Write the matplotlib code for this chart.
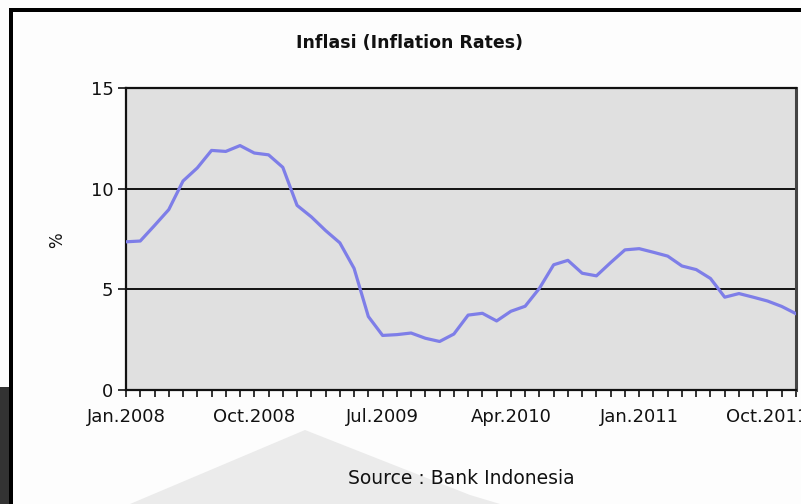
import numpy as np
import matplotlib.pyplot as plt
from matplotlib.patches import Rectangle, Polygon

# monthly inflation (%, yoy), Jan 2008 - Dec 2011
inflasi_2008 = [7.36, 7.40, 8.17, 8.96, 10.38, 11.03, 11.90, 11.85, 12.14, 11.77, 11.68, 11.06]
inflasi_2009 = [9.17, 8.60, 7.92, 7.31, 6.04, 3.65, 2.71, 2.75, 2.83, 2.57, 2.41, 2.78]
inflasi_2010 = [3.72, 3.81, 3.43, 3.91, 4.16, 5.05, 6.22, 6.44, 5.80, 5.67, 6.33, 6.96]
inflasi_2011 = [7.02, 6.84, 6.65, 6.16, 5.98, 5.54, 4.61, 4.79, 4.61, 4.42, 4.15, 3.79]

tick_labels = ["Jan.2008", "Oct.2008", "Jul.2009", "Apr.2010", "Jan.2011", "Oct.2011"]
y_ticks = [0, 5, 10, 15]

inflasi = np.array(inflasi_2008 + inflasi_2009 + inflasi_2010 + inflasi_2011)
bulan = np.arange(len(inflasi))

plt.rcParams["font.family"] = "DejaVu Sans"

fig = plt.figure(figsize=(8.01, 5.04), dpi=100, facecolor="#fdfdfd")

# faint background emblem
fig.patches.append(Polygon([[130 / 801, 0], [305 / 801, 74 / 504], [470 / 801, 9 / 504],
                            [500 / 801, 0]], closed=True, transform=fig.transFigure,
                           facecolor="#ebebeb", edgecolor="none", zorder=0))

# page frame
fig.patches.append(Rectangle((9 / 801, 492 / 504), 792 / 801, 4 / 504, transform=fig.transFigure,
                             facecolor="black", edgecolor="none", zorder=1))
fig.patches.append(Rectangle((9 / 801, 0), 4 / 801, 496 / 504, transform=fig.transFigure,
                             facecolor="black", edgecolor="none", zorder=1))
fig.patches.append(Rectangle((0, 0), 9 / 801, 117 / 504, transform=fig.transFigure,
                             facecolor="#333333", edgecolor="none", zorder=1))

ax = fig.add_axes([126 / 801, 114 / 504, 670 / 801, 302 / 504])
ax.set_facecolor("#e0e0e0")

ax.plot(bulan, inflasi, color="#7e7ee8", linewidth=2.3, solid_joinstyle="round", zorder=3)

ax.set_xlim(0, len(inflasi) - 1)
ax.set_ylim(0, 15)

ax.set_yticks(y_ticks)
ax.set_xticks(np.arange(0, len(inflasi), 9))
ax.set_xticklabels(tick_labels)
ax.set_xticks(bulan, minor=True)

for y in [5, 10]:
    ax.axhline(y, color="#111111", linewidth=1.4, zorder=2)

for side in ["left", "bottom", "top"]:
    ax.spines[side].set_color("#111111")
    ax.spines[side].set_linewidth(1.6)
ax.spines["right"].set_color("#444444")
ax.spines["right"].set_linewidth(2.2)

ax.tick_params(axis="y", length=6, width=1.2, pad=3, labelsize=13, colors="#111111")
ax.tick_params(axis="x", which="both", length=5, width=1.2, pad=8, labelsize=13, colors="#111111")

fig.text(410 / 801, 461 / 504, "Inflasi (Inflation Rates)", ha="center", va="center",
         fontsize=12.5, fontweight="bold", color="#111111")
fig.text(57 / 801, 264 / 504, "%", rotation=90, ha="center", va="center", fontsize=12, color="#111111")
fig.text(461 / 801, 26 / 504, "Source : Bank Indonesia", ha="center", va="center",
         fontsize=13.5, color="#111111")

fig.savefig("out.png", dpi=100, facecolor=fig.get_facecolor())
